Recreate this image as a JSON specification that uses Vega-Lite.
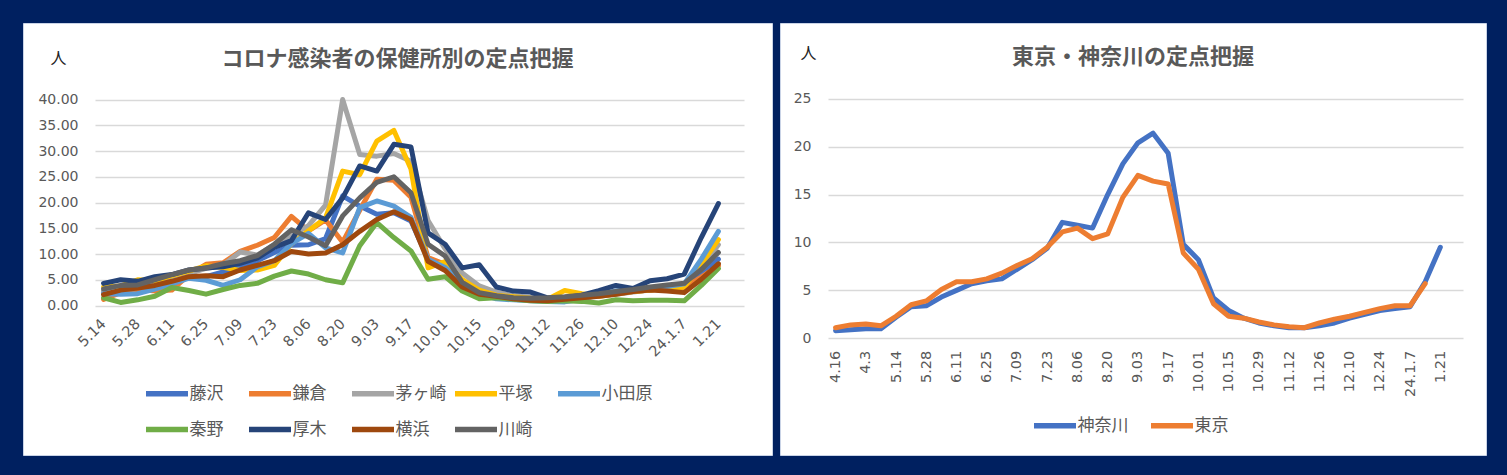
{
"$schema": "https://vega.github.io/schema/vega-lite/v6.json",
"background": "#002060",
"padding": {"left": 22, "top": 22, "right": 24, "bottom": 21},
"spacing": 6,
"config": {"view": {"fill": "white", "stroke": "#c9d3e6", "strokeWidth": 1}, "font": "Noto Sans CJK JP"},
"resolve": {"scale": {"color": "independent", "x": "independent", "y": "independent"}, "legend": {"color": "independent"}},
"datasets": {
"hokenjo": [
{"s":"藤沢","w":"5.14","v":2.6},{"s":"藤沢","w":"5.21","v":2.8},{"s":"藤沢","w":"5.28","v":2.9},{"s":"藤沢","w":"6.04","v":3.9},{"s":"藤沢","w":"6.11","v":4.9},{"s":"藤沢","w":"6.18","v":5.5},{"s":"藤沢","w":"6.25","v":5.6},{"s":"藤沢","w":"7.02","v":6.5},{"s":"藤沢","w":"7.09","v":7.4},{"s":"藤沢","w":"7.16","v":8.7},{"s":"藤沢","w":"7.23","v":10.3},{"s":"藤沢","w":"7.30","v":11.7},{"s":"藤沢","w":"8.06","v":11.8},{"s":"藤沢","w":"8.13","v":13.0},{"s":"藤沢","w":"8.20","v":21.3},{"s":"藤沢","w":"8.27","v":19.3},{"s":"藤沢","w":"9.03","v":17.7},{"s":"藤沢","w":"9.10","v":18.0},{"s":"藤沢","w":"9.17","v":16.4},{"s":"藤沢","w":"9.24","v":9.0},{"s":"藤沢","w":"10.01","v":8.0},{"s":"藤沢","w":"10.08","v":4.5},{"s":"藤沢","w":"10.15","v":3.0},{"s":"藤沢","w":"10.22","v":2.0},{"s":"藤沢","w":"10.29","v":1.6},{"s":"藤沢","w":"11.05","v":1.3},{"s":"藤沢","w":"11.12","v":1.1},{"s":"藤沢","w":"11.19","v":1.0},{"s":"藤沢","w":"11.26","v":1.4},{"s":"藤沢","w":"12.03","v":2.0},{"s":"藤沢","w":"12.10","v":2.6},{"s":"藤沢","w":"12.17","v":3.0},{"s":"藤沢","w":"12.24","v":3.2},{"s":"藤沢","w":"12.31","v":3.6},{"s":"藤沢","w":"24.1.7","v":3.9},{"s":"藤沢","w":"1.14","v":6.5},{"s":"藤沢","w":"1.21","v":9.0},
{"s":"鎌倉","w":"5.14","v":1.2},{"s":"鎌倉","w":"5.21","v":2.5},{"s":"鎌倉","w":"5.28","v":3.2},{"s":"鎌倉","w":"6.04","v":2.8},{"s":"鎌倉","w":"6.11","v":3.0},{"s":"鎌倉","w":"6.18","v":6.0},{"s":"鎌倉","w":"6.25","v":8.0},{"s":"鎌倉","w":"7.02","v":8.3},{"s":"鎌倉","w":"7.09","v":10.5},{"s":"鎌倉","w":"7.16","v":11.7},{"s":"鎌倉","w":"7.23","v":13.2},{"s":"鎌倉","w":"7.30","v":17.3},{"s":"鎌倉","w":"8.06","v":14.5},{"s":"鎌倉","w":"8.13","v":16.6},{"s":"鎌倉","w":"8.20","v":12.3},{"s":"鎌倉","w":"8.27","v":18.5},{"s":"鎌倉","w":"9.03","v":24.5},{"s":"鎌倉","w":"9.10","v":24.3},{"s":"鎌倉","w":"9.17","v":21.0},{"s":"鎌倉","w":"9.24","v":9.3},{"s":"鎌倉","w":"10.01","v":8.0},{"s":"鎌倉","w":"10.08","v":5.0},{"s":"鎌倉","w":"10.15","v":2.8},{"s":"鎌倉","w":"10.22","v":1.9},{"s":"鎌倉","w":"10.29","v":1.5},{"s":"鎌倉","w":"11.05","v":1.2},{"s":"鎌倉","w":"11.12","v":1.0},{"s":"鎌倉","w":"11.19","v":1.2},{"s":"鎌倉","w":"11.26","v":1.5},{"s":"鎌倉","w":"12.03","v":1.9},{"s":"鎌倉","w":"12.10","v":2.3},{"s":"鎌倉","w":"12.17","v":2.7},{"s":"鎌倉","w":"12.24","v":3.0},{"s":"鎌倉","w":"12.31","v":3.3},{"s":"鎌倉","w":"24.1.7","v":3.5},{"s":"鎌倉","w":"1.14","v":5.5},{"s":"鎌倉","w":"1.21","v":7.7},
{"s":"茅ヶ崎","w":"5.14","v":2.8},{"s":"茅ヶ崎","w":"5.21","v":3.5},{"s":"茅ヶ崎","w":"5.28","v":3.8},{"s":"茅ヶ崎","w":"6.04","v":4.5},{"s":"茅ヶ崎","w":"6.11","v":5.2},{"s":"茅ヶ崎","w":"6.18","v":6.2},{"s":"茅ヶ崎","w":"6.25","v":7.2},{"s":"茅ヶ崎","w":"7.02","v":7.8},{"s":"茅ヶ崎","w":"7.09","v":10.4},{"s":"茅ヶ崎","w":"7.16","v":9.8},{"s":"茅ヶ崎","w":"7.23","v":11.8},{"s":"茅ヶ崎","w":"7.30","v":13.5},{"s":"茅ヶ崎","w":"8.06","v":15.5},{"s":"茅ヶ崎","w":"8.13","v":19.5},{"s":"茅ヶ崎","w":"8.20","v":40.0},{"s":"茅ヶ崎","w":"8.27","v":29.3},{"s":"茅ヶ崎","w":"9.03","v":29.0},{"s":"茅ヶ崎","w":"9.10","v":29.5},{"s":"茅ヶ崎","w":"9.17","v":28.0},{"s":"茅ヶ崎","w":"9.24","v":16.5},{"s":"茅ヶ崎","w":"10.01","v":11.0},{"s":"茅ヶ崎","w":"10.08","v":6.3},{"s":"茅ヶ崎","w":"10.15","v":3.8},{"s":"茅ヶ崎","w":"10.22","v":2.6},{"s":"茅ヶ崎","w":"10.29","v":1.9},{"s":"茅ヶ崎","w":"11.05","v":1.6},{"s":"茅ヶ崎","w":"11.12","v":1.3},{"s":"茅ヶ崎","w":"11.19","v":1.2},{"s":"茅ヶ崎","w":"11.26","v":1.5},{"s":"茅ヶ崎","w":"12.03","v":1.8},{"s":"茅ヶ崎","w":"12.10","v":2.2},{"s":"茅ヶ崎","w":"12.17","v":2.6},{"s":"茅ヶ崎","w":"12.24","v":3.0},{"s":"茅ヶ崎","w":"12.31","v":3.5},{"s":"茅ヶ崎","w":"24.1.7","v":4.0},{"s":"茅ヶ崎","w":"1.14","v":7.5},{"s":"茅ヶ崎","w":"1.21","v":11.8},
{"s":"平塚","w":"5.14","v":3.6},{"s":"平塚","w":"5.21","v":3.8},{"s":"平塚","w":"5.28","v":5.0},{"s":"平塚","w":"6.04","v":4.8},{"s":"平塚","w":"6.11","v":5.8},{"s":"平塚","w":"6.18","v":6.7},{"s":"平塚","w":"6.25","v":7.7},{"s":"平塚","w":"7.02","v":7.4},{"s":"平塚","w":"7.09","v":6.8},{"s":"平塚","w":"7.16","v":6.9},{"s":"平塚","w":"7.23","v":7.8},{"s":"平塚","w":"7.30","v":12.0},{"s":"平塚","w":"8.06","v":14.5},{"s":"平塚","w":"8.13","v":17.0},{"s":"平塚","w":"8.20","v":26.1},{"s":"平塚","w":"8.27","v":25.4},{"s":"平塚","w":"9.03","v":31.9},{"s":"平塚","w":"9.10","v":34.0},{"s":"平塚","w":"9.17","v":26.5},{"s":"平塚","w":"9.24","v":7.3},{"s":"平塚","w":"10.01","v":8.5},{"s":"平塚","w":"10.08","v":5.0},{"s":"平塚","w":"10.15","v":3.0},{"s":"平塚","w":"10.22","v":2.0},{"s":"平塚","w":"10.29","v":1.7},{"s":"平塚","w":"11.05","v":1.4},{"s":"平塚","w":"11.12","v":1.2},{"s":"平塚","w":"11.19","v":2.9},{"s":"平塚","w":"11.26","v":2.3},{"s":"平塚","w":"12.03","v":1.8},{"s":"平塚","w":"12.10","v":2.3},{"s":"平塚","w":"12.17","v":2.7},{"s":"平塚","w":"12.24","v":3.0},{"s":"平塚","w":"12.31","v":3.3},{"s":"平塚","w":"24.1.7","v":3.6},{"s":"平塚","w":"1.14","v":8.0},{"s":"平塚","w":"1.21","v":12.8},
{"s":"小田原","w":"5.14","v":2.3},{"s":"小田原","w":"5.21","v":2.2},{"s":"小田原","w":"5.28","v":2.3},{"s":"小田原","w":"6.04","v":3.2},{"s":"小田原","w":"6.11","v":4.2},{"s":"小田原","w":"6.18","v":5.3},{"s":"小田原","w":"6.25","v":4.9},{"s":"小田原","w":"7.02","v":3.9},{"s":"小田原","w":"7.09","v":5.0},{"s":"小田原","w":"7.16","v":7.5},{"s":"小田原","w":"7.23","v":8.7},{"s":"小田原","w":"7.30","v":12.0},{"s":"小田原","w":"8.06","v":14.0},{"s":"小田原","w":"8.13","v":11.2},{"s":"小田原","w":"8.20","v":10.2},{"s":"小田原","w":"8.27","v":19.0},{"s":"小田原","w":"9.03","v":20.3},{"s":"小田原","w":"9.10","v":19.3},{"s":"小田原","w":"9.17","v":17.1},{"s":"小田原","w":"9.24","v":9.0},{"s":"小田原","w":"10.01","v":7.4},{"s":"小田原","w":"10.08","v":4.2},{"s":"小田原","w":"10.15","v":2.2},{"s":"小田原","w":"10.22","v":1.3},{"s":"小田原","w":"10.29","v":1.1},{"s":"小田原","w":"11.05","v":0.9},{"s":"小田原","w":"11.12","v":0.8},{"s":"小田原","w":"11.19","v":0.7},{"s":"小田原","w":"11.26","v":1.2},{"s":"小田原","w":"12.03","v":2.2},{"s":"小田原","w":"12.10","v":2.8},{"s":"小田原","w":"12.17","v":3.2},{"s":"小田原","w":"12.24","v":3.4},{"s":"小田原","w":"12.31","v":3.7},{"s":"小田原","w":"24.1.7","v":4.2},{"s":"小田原","w":"1.14","v":9.0},{"s":"小田原","w":"1.21","v":14.4},
{"s":"秦野","w":"5.14","v":1.5},{"s":"秦野","w":"5.21","v":0.6},{"s":"秦野","w":"5.28","v":1.1},{"s":"秦野","w":"6.04","v":1.8},{"s":"秦野","w":"6.11","v":3.5},{"s":"秦野","w":"6.18","v":2.9},{"s":"秦野","w":"6.25","v":2.2},{"s":"秦野","w":"7.02","v":3.1},{"s":"秦野","w":"7.09","v":3.9},{"s":"秦野","w":"7.16","v":4.3},{"s":"秦野","w":"7.23","v":5.7},{"s":"秦野","w":"7.30","v":6.7},{"s":"秦野","w":"8.06","v":6.1},{"s":"秦野","w":"8.13","v":5.0},{"s":"秦野","w":"8.20","v":4.4},{"s":"秦野","w":"8.27","v":11.6},{"s":"秦野","w":"9.03","v":16.1},{"s":"秦野","w":"9.10","v":13.2},{"s":"秦野","w":"9.17","v":10.6},{"s":"秦野","w":"9.24","v":5.1},{"s":"秦野","w":"10.01","v":5.6},{"s":"秦野","w":"10.08","v":2.8},{"s":"秦野","w":"10.15","v":1.3},{"s":"秦野","w":"10.22","v":1.5},{"s":"秦野","w":"10.29","v":1.2},{"s":"秦野","w":"11.05","v":0.9},{"s":"秦野","w":"11.12","v":0.8},{"s":"秦野","w":"11.19","v":0.9},{"s":"秦野","w":"11.26","v":0.8},{"s":"秦野","w":"12.03","v":0.5},{"s":"秦野","w":"12.10","v":1.1},{"s":"秦野","w":"12.17","v":0.9},{"s":"秦野","w":"12.24","v":1.0},{"s":"秦野","w":"12.31","v":1.0},{"s":"秦野","w":"24.1.7","v":0.9},{"s":"秦野","w":"1.14","v":3.9},{"s":"秦野","w":"1.21","v":7.2},
{"s":"厚木","w":"5.14","v":4.3},{"s":"厚木","w":"5.21","v":5.0},{"s":"厚木","w":"5.28","v":4.7},{"s":"厚木","w":"6.04","v":5.6},{"s":"厚木","w":"6.11","v":6.0},{"s":"厚木","w":"6.18","v":6.9},{"s":"厚木","w":"6.25","v":7.3},{"s":"厚木","w":"7.02","v":7.5},{"s":"厚木","w":"7.09","v":8.2},{"s":"厚木","w":"7.16","v":9.2},{"s":"厚木","w":"7.23","v":11.3},{"s":"厚木","w":"7.30","v":12.6},{"s":"厚木","w":"8.06","v":18.0},{"s":"厚木","w":"8.13","v":16.7},{"s":"厚木","w":"8.20","v":20.9},{"s":"厚木","w":"8.27","v":27.1},{"s":"厚木","w":"9.03","v":26.1},{"s":"厚木","w":"9.10","v":31.3},{"s":"厚木","w":"9.17","v":30.8},{"s":"厚木","w":"9.24","v":14.1},{"s":"厚木","w":"10.01","v":11.9},{"s":"厚木","w":"10.08","v":7.3},{"s":"厚木","w":"10.15","v":7.9},{"s":"厚木","w":"10.22","v":3.6},{"s":"厚木","w":"10.29","v":2.8},{"s":"厚木","w":"11.05","v":2.6},{"s":"厚木","w":"11.12","v":1.5},{"s":"厚木","w":"11.19","v":1.5},{"s":"厚木","w":"11.26","v":2.0},{"s":"厚木","w":"12.03","v":2.9},{"s":"厚木","w":"12.10","v":3.9},{"s":"厚木","w":"12.17","v":3.3},{"s":"厚木","w":"12.24","v":4.8},{"s":"厚木","w":"12.31","v":5.2},{"s":"厚木","w":"24.1.7","v":6.1},{"s":"厚木","w":"1.14","v":13.2},{"s":"厚木","w":"1.21","v":19.8},
{"s":"横浜","w":"5.14","v":2.1},{"s":"横浜","w":"5.21","v":3.0},{"s":"横浜","w":"5.28","v":3.4},{"s":"横浜","w":"6.04","v":3.9},{"s":"横浜","w":"6.11","v":4.7},{"s":"横浜","w":"6.18","v":5.6},{"s":"横浜","w":"6.25","v":5.8},{"s":"横浜","w":"7.02","v":5.6},{"s":"横浜","w":"7.09","v":6.9},{"s":"横浜","w":"7.16","v":7.8},{"s":"横浜","w":"7.23","v":8.7},{"s":"横浜","w":"7.30","v":10.5},{"s":"横浜","w":"8.06","v":10.0},{"s":"横浜","w":"8.13","v":10.2},{"s":"横浜","w":"8.20","v":11.8},{"s":"横浜","w":"8.27","v":14.4},{"s":"横浜","w":"9.03","v":16.7},{"s":"横浜","w":"9.10","v":18.2},{"s":"横浜","w":"9.17","v":16.7},{"s":"横浜","w":"9.24","v":8.6},{"s":"横浜","w":"10.01","v":6.8},{"s":"横浜","w":"10.08","v":3.6},{"s":"横浜","w":"10.15","v":2.2},{"s":"横浜","w":"10.22","v":1.8},{"s":"横浜","w":"10.29","v":1.3},{"s":"横浜","w":"11.05","v":1.0},{"s":"横浜","w":"11.12","v":0.9},{"s":"横浜","w":"11.19","v":1.2},{"s":"横浜","w":"11.26","v":1.5},{"s":"横浜","w":"12.03","v":1.8},{"s":"横浜","w":"12.10","v":2.2},{"s":"横浜","w":"12.17","v":2.7},{"s":"横浜","w":"12.24","v":3.0},{"s":"横浜","w":"12.31","v":2.8},{"s":"横浜","w":"24.1.7","v":2.5},{"s":"横浜","w":"1.14","v":5.1},{"s":"横浜","w":"1.21","v":8.1},
{"s":"川崎","w":"5.14","v":3.2},{"s":"川崎","w":"5.21","v":3.9},{"s":"川崎","w":"5.28","v":4.0},{"s":"川崎","w":"6.04","v":5.0},{"s":"川崎","w":"6.11","v":6.0},{"s":"川崎","w":"6.18","v":6.9},{"s":"川崎","w":"6.25","v":7.3},{"s":"川崎","w":"7.02","v":8.1},{"s":"川崎","w":"7.09","v":8.7},{"s":"川崎","w":"7.16","v":9.7},{"s":"川崎","w":"7.23","v":11.9},{"s":"川崎","w":"7.30","v":14.7},{"s":"川崎","w":"8.06","v":13.3},{"s":"川崎","w":"8.13","v":11.6},{"s":"川崎","w":"8.20","v":17.4},{"s":"川崎","w":"8.27","v":20.9},{"s":"川崎","w":"9.03","v":23.9},{"s":"川崎","w":"9.10","v":25.0},{"s":"川崎","w":"9.17","v":21.9},{"s":"川崎","w":"9.24","v":11.9},{"s":"川崎","w":"10.01","v":9.6},{"s":"川崎","w":"10.08","v":4.5},{"s":"川崎","w":"10.15","v":2.5},{"s":"川崎","w":"10.22","v":1.9},{"s":"川崎","w":"10.29","v":1.5},{"s":"川崎","w":"11.05","v":1.4},{"s":"川崎","w":"11.12","v":1.5},{"s":"川崎","w":"11.19","v":1.7},{"s":"川崎","w":"11.26","v":2.0},{"s":"川崎","w":"12.03","v":2.3},{"s":"川崎","w":"12.10","v":2.7},{"s":"川崎","w":"12.17","v":3.1},{"s":"川崎","w":"12.24","v":3.6},{"s":"川崎","w":"12.31","v":4.0},{"s":"川崎","w":"24.1.7","v":4.3},{"s":"川崎","w":"1.14","v":7.0},{"s":"川崎","w":"1.21","v":10.3}
],
"pref": [
{"s":"神奈川","w":"4.16","v":0.8},{"s":"神奈川","w":"4.23","v":0.9},{"s":"神奈川","w":"4.3","v":1.0},{"s":"神奈川","w":"5.07","v":1.0},{"s":"神奈川","w":"5.14","v":2.2},{"s":"神奈川","w":"5.21","v":3.3},{"s":"神奈川","w":"5.28","v":3.4},{"s":"神奈川","w":"6.04","v":4.3},{"s":"神奈川","w":"6.11","v":5.0},{"s":"神奈川","w":"6.18","v":5.7},{"s":"神奈川","w":"6.25","v":6.0},{"s":"神奈川","w":"7.02","v":6.2},{"s":"神奈川","w":"7.09","v":7.2},{"s":"神奈川","w":"7.16","v":8.2},{"s":"神奈川","w":"7.23","v":9.4},{"s":"神奈川","w":"7.30","v":12.1},{"s":"神奈川","w":"8.06","v":11.8},{"s":"神奈川","w":"8.13","v":11.5},{"s":"神奈川","w":"8.20","v":15.0},{"s":"神奈川","w":"8.27","v":18.2},{"s":"神奈川","w":"9.03","v":20.4},{"s":"神奈川","w":"9.10","v":21.4},{"s":"神奈川","w":"9.17","v":19.3},{"s":"神奈川","w":"9.24","v":9.8},{"s":"神奈川","w":"10.01","v":8.2},{"s":"神奈川","w":"10.08","v":4.2},{"s":"神奈川","w":"10.15","v":2.9},{"s":"神奈川","w":"10.22","v":2.1},{"s":"神奈川","w":"10.29","v":1.6},{"s":"神奈川","w":"11.05","v":1.3},{"s":"神奈川","w":"11.12","v":1.1},{"s":"神奈川","w":"11.19","v":1.1},{"s":"神奈川","w":"11.26","v":1.3},{"s":"神奈川","w":"12.03","v":1.6},{"s":"神奈川","w":"12.10","v":2.1},{"s":"神奈川","w":"12.17","v":2.5},{"s":"神奈川","w":"12.24","v":2.9},{"s":"神奈川","w":"12.31","v":3.1},{"s":"神奈川","w":"24.1.7","v":3.3},{"s":"神奈川","w":"1.14","v":5.9},{"s":"神奈川","w":"1.21","v":9.5},
{"s":"東京","w":"4.16","v":1.1},{"s":"東京","w":"4.23","v":1.4},{"s":"東京","w":"4.3","v":1.5},{"s":"東京","w":"5.07","v":1.3},{"s":"東京","w":"5.14","v":2.3},{"s":"東京","w":"5.21","v":3.5},{"s":"東京","w":"5.28","v":3.9},{"s":"東京","w":"6.04","v":5.1},{"s":"東京","w":"6.11","v":5.9},{"s":"東京","w":"6.18","v":5.9},{"s":"東京","w":"6.25","v":6.2},{"s":"東京","w":"7.02","v":6.8},{"s":"東京","w":"7.09","v":7.6},{"s":"東京","w":"7.16","v":8.3},{"s":"東京","w":"7.23","v":9.5},{"s":"東京","w":"7.30","v":11.1},{"s":"東京","w":"8.06","v":11.5},{"s":"東京","w":"8.13","v":10.4},{"s":"東京","w":"8.20","v":10.9},{"s":"東京","w":"8.27","v":14.7},{"s":"東京","w":"9.03","v":17.0},{"s":"東京","w":"9.10","v":16.4},{"s":"東京","w":"9.17","v":16.1},{"s":"東京","w":"9.24","v":8.9},{"s":"東京","w":"10.01","v":7.2},{"s":"東京","w":"10.08","v":3.6},{"s":"東京","w":"10.15","v":2.3},{"s":"東京","w":"10.22","v":2.1},{"s":"東京","w":"10.29","v":1.7},{"s":"東京","w":"11.05","v":1.4},{"s":"東京","w":"11.12","v":1.2},{"s":"東京","w":"11.19","v":1.1},{"s":"東京","w":"11.26","v":1.6},{"s":"東京","w":"12.03","v":2.0},{"s":"東京","w":"12.10","v":2.3},{"s":"東京","w":"12.17","v":2.7},{"s":"東京","w":"12.24","v":3.1},{"s":"東京","w":"12.31","v":3.4},{"s":"東京","w":"24.1.7","v":3.4},{"s":"東京","w":"1.14","v":5.7}
]
},
"hconcat": [
{
"width": 749, "height": 432,
"data": {"name": "hokenjo"},
"title": {"text": "コロナ感染者の保健所別の定点把握", "font": "Noto Sans CJK JP", "fontSize": 22, "fontWeight": "bold", "color": "#595959", "anchor": "middle", "frame": "group", "offset": -48},
"mark": {"type": "line", "strokeWidth": 5, "strokeJoin": "round", "strokeCap": "round"},
"encoding": {
"x": {"field": "w", "type": "ordinal", "sort": null,
 "scale": {"type": "point", "domain": ["5.14","5.21","5.28","6.04","6.11","6.18","6.25","7.02","7.09","7.16","7.23","7.30","8.06","8.13","8.20","8.27","9.03","9.10","9.17","9.24","10.01","10.08","10.15","10.22","10.29","11.05","11.12","11.19","11.26","12.03","12.10","12.17","12.24","12.31","24.1.7","1.14","1.21","1.28"], "range": [72, 721], "padding": 0.5},
 "axis": {"values": ["5.14","5.28","6.11","6.25","7.09","7.23","8.06","8.20","9.03","9.17","10.01","10.15","10.29","11.12","11.26","12.10","12.24","24.1.7","1.21"], "labelAngle": -45, "labelAlign": "right", "labelBaseline": "middle", "labelPadding": 16, "labelFont": "DejaVu Sans", "labelFontSize": 14.5, "labelColor": "#595959", "labelOverlap": false, "domain": false, "ticks": false, "grid": false, "title": null, "offset": -149.5}},
"y": {"field": "v", "type": "quantitative",
 "scale": {"domain": [0, 40], "nice": false, "range": [282.5, 76.5]},
 "axis": {"values": [0,5,10,15,20,25,30,35,40], "format": ".2f", "labelFont": "DejaVu Sans", "labelFontSize": 14, "labelColor": "#595959", "labelPadding": 17, "domain": false, "ticks": false, "grid": true, "gridColor": "#d9d9d9", "gridWidth": 1.6, "offset": -72,
  "title": "人", "titleAngle": 0, "titleX": -37, "titleY": 35, "titleAlign": "center", "titleBaseline": "middle", "titleFont": "Noto Sans CJK JP", "titleFontSize": 16, "titleFontWeight": "normal", "titleColor": "#222222"}},
"color": {"field": "s", "type": "nominal",
 "scale": {"domain": ["藤沢","鎌倉","茅ヶ崎","平塚","小田原","秦野","厚木","横浜","川崎"], "range": ["#4472C4","#ED7D31","#A5A5A5","#FFC000","#5B9BD5","#70AD47","#264478","#9E480E","#636363"]},
 "legend": {"orient": "none", "legendX": 120, "legendY": 357, "direction": "horizontal", "columns": 5, "title": null, "symbolType": "M-2,0H2", "symbolSize": 441, "symbolStrokeWidth": 5.5, "symbolOffset": 10.5, "labelFont": "Noto Sans CJK JP", "labelFontSize": 17, "labelColor": "#595959", "labelOffset": 9, "columnPadding": -3, "rowPadding": 11, "gridAlign": "all"}}
}
},
{
"width": 706, "height": 432,
"data": {"name": "pref"},
"title": {"text": "東京・神奈川の定点把握", "font": "Noto Sans CJK JP", "fontSize": 22, "fontWeight": "bold", "color": "#595959", "anchor": "middle", "frame": "group", "offset": -46},
"mark": {"type": "line", "strokeWidth": 5, "strokeJoin": "round", "strokeCap": "round"},
"encoding": {
"x": {"field": "w", "type": "ordinal", "sort": null,
 "scale": {"type": "point", "domain": ["4.16","4.23","4.3","5.07","5.14","5.21","5.28","6.04","6.11","6.18","6.25","7.02","7.09","7.16","7.23","7.30","8.06","8.13","8.20","8.27","9.03","9.10","9.17","9.24","10.01","10.08","10.15","10.22","10.29","11.05","11.12","11.19","11.26","12.03","12.10","12.17","12.24","12.31","24.1.7","1.14","1.21","1.28"], "range": [48, 683], "padding": 0.5},
 "axis": {"values": ["4.16","4.3","5.14","5.28","6.11","6.25","7.09","7.23","8.06","8.20","9.03","9.17","10.01","10.15","10.29","11.12","11.26","12.10","12.24","24.1.7","1.21"], "labelAngle": -90, "labelAlign": "right", "labelBaseline": "middle", "labelPadding": 12, "labelFont": "DejaVu Sans", "labelFontSize": 14.5, "labelColor": "#595959", "labelOverlap": false, "domain": false, "ticks": false, "grid": false, "title": null, "offset": -116.7}},
"y": {"field": "v", "type": "quantitative",
 "scale": {"domain": [0, 25], "nice": false, "range": [315.3, 75.7]},
 "axis": {"values": [0,5,10,15,20,25], "format": "d", "labelFont": "DejaVu Sans", "labelFontSize": 14, "labelColor": "#595959", "labelPadding": 17, "domain": false, "ticks": false, "grid": true, "gridColor": "#d9d9d9", "gridWidth": 1.6, "offset": -48,
  "title": "人", "titleAngle": 0, "titleX": -20, "titleY": 30, "titleAlign": "center", "titleBaseline": "middle", "titleFont": "Noto Sans CJK JP", "titleFontSize": 16, "titleFontWeight": "normal", "titleColor": "#222222"}},
"color": {"field": "s", "type": "nominal",
 "scale": {"domain": ["神奈川","東京"], "range": ["#4472C4","#ED7D31"]},
 "legend": {"orient": "none", "legendX": 251, "legendY": 389, "direction": "horizontal", "columns": 2, "title": null, "symbolType": "M-2,0H2", "symbolSize": 441, "symbolStrokeWidth": 5.5, "symbolOffset": 10.5, "labelFont": "Noto Sans CJK JP", "labelFontSize": 17, "labelColor": "#595959", "labelOffset": 9, "columnPadding": 11, "rowPadding": 9, "gridAlign": "all"}}
}
}
]
}
